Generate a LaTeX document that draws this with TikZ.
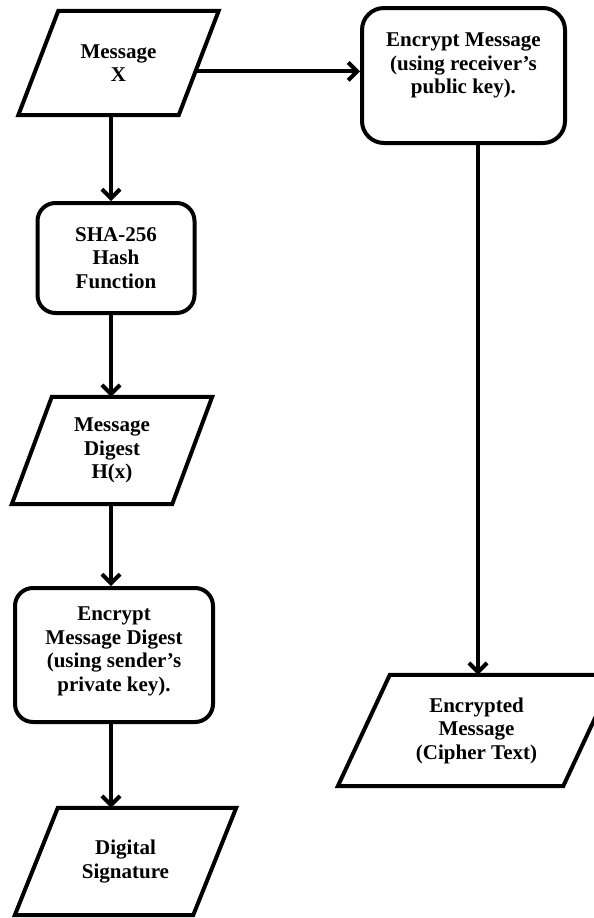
\documentclass[tikz,border=0pt]{standalone}
\usepackage{fontspec}
\setmainfont{Liberation Serif}
\usetikzlibrary{arrows.meta,calc}

\begin{document}
\begin{tikzpicture}[x=1pt, y=1pt,
    txt/.style={align=center, font=\fontsize{21}{23.5}\selectfont\bfseries},
    box/.style={txt, draw, line width=4pt, rounded corners=18pt},
    io/.style={txt, inner sep=0pt},
    arr/.style={line width=4pt, -{Straight Barb[length=9pt,width=18pt]}}]
    \clip (0,0) rectangle (594,-918);
    \coordinate (lc) at (111,0); % left column of arrows
    \coordinate (rc) at (478,0); % right column
    % left column
    \node[io, minimum width=160pt, minimum height=104pt] (msg) at (118.5,-63) {Message\\X};
    \node[box, minimum width=157pt, minimum height=110pt] (sha) at (116,-258) {SHA-256\\Hash\\Function};
    \node[io, minimum width=160pt, minimum height=107pt] (dig) at (112,-450.5) {Message\\Digest\\H(x)};
    \node[box, minimum width=198pt, minimum height=134pt, text depth=11.5pt] (encd) at (114,-655) {Encrypt\\Message Digest\\(using sender's\\private key).};
    \node[io, minimum width=178pt, minimum height=107pt] (sig) at (125.5,-861.5) {Digital\\Signature};
    % right column
    \node[box, minimum width=203pt, minimum height=135pt, rounded corners=22pt, text depth=24pt] (enc) at (463.5,-75.5) {Encrypt Message\\(using receiver's\\public key).};
    \node[io, minimum width=225pt, minimum height=111pt] (encm) at (476.5,-730.5) {Encrypted\\Message\\(Cipher Text)};
    % parallelograms round the io nodes, half slant \s
    \foreach \n/\s in {msg/20, dig/20, sig/21.5, encm/26} {
      \coordinate (\n-bl) at ($(\n.south west)+(-\s,0)$);
      \coordinate (\n-tl) at ($(\n.north west)+(\s,0)$);
      \coordinate (\n-tr) at ($(\n.north east)+(\s,0)$);
      \coordinate (\n-br) at ($(\n.south east)+(-\s,0)$);
      \draw[line width=4pt] (\n-bl) -- (\n-tl) -- (\n-tr) -- (\n-br) -- cycle;
    }
    % arrows
    \draw[arr] ($(msg-br)!0.42!(msg-tr)$) coordinate (mx) -- (mx -| enc.west);
    \draw[arr] (msg.south -| lc) -- (sha.north -| lc);
    \draw[arr] (sha.south -| lc) -- (dig.north -| lc);
    \draw[arr] (dig.south -| lc) -- (encd.north -| lc);
    \draw[arr] (encd.south -| lc) -- (sig.north -| lc);
    \draw[arr] (enc.south -| rc) -- (encm.north -| rc);
\end{tikzpicture}
\end{document}
